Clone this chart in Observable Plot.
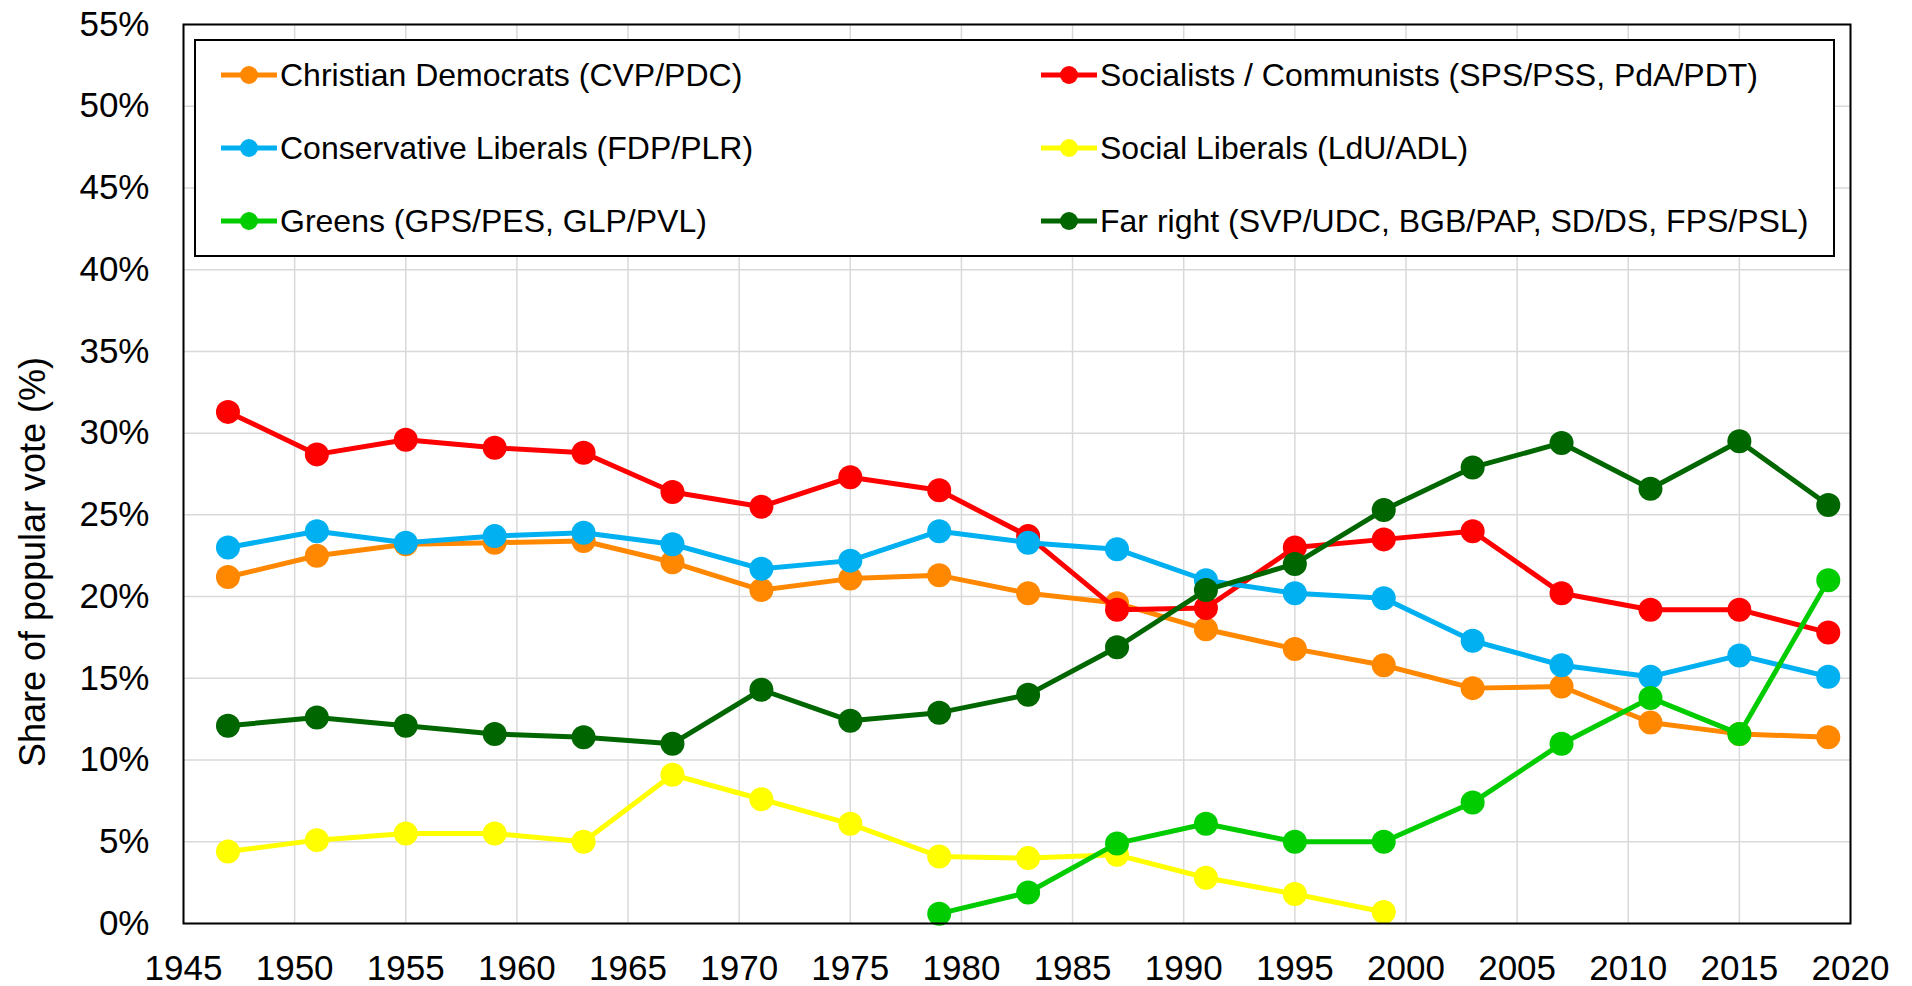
<!DOCTYPE html>
<html>
<head>
<meta charset="utf-8">
<script src="https://cdn.jsdelivr.net/npm/d3@7"></script>
<script src="https://cdn.jsdelivr.net/npm/@observablehq/plot@0.6"></script>
<style>
  body { margin: 0; background: #fff; overflow: hidden; font-family: "Liberation Sans", Arial, sans-serif; }
  #wrap { position: relative; width: 1912px; height: 986px; }
  #wrap > svg { position: absolute; left: 0; top: 0; }
  #legendBox { position: absolute; left: 194px; top: 39px; width: 1637px; height: 214px; border: 2px solid #000; background: #fff; }
  .item { position: absolute; display: flex; align-items: center; font-size: 32px; color: #000; white-space: nowrap; line-height: 1; }
  .item svg { display: block; flex: none; margin-right: 3px; }
  #ytitle { position: absolute; left: 33px; top: 562px; transform: translate(-50%, -50%) rotate(-90deg); font-size: 36px; white-space: nowrap; color: #000; }
</style>
</head>
<body>
<div id="wrap"></div>
<script>
// ---- data ----
const years = [1947, 1951, 1955, 1959, 1963, 1967, 1971, 1975, 1979, 1983, 1987, 1991, 1995, 1999, 2003, 2007, 2011, 2015, 2019];
const christianDemocrats = [21.2, 22.5, 23.2, 23.3, 23.4, 22.1, 20.4, 21.1, 21.3, 20.2, 19.6, 18.0, 16.8, 15.8, 14.4, 14.5, 12.3, 11.6, 11.4];
const socialists = [31.3, 28.7, 29.6, 29.1, 28.8, 26.4, 25.5, 27.3, 26.5, 23.7, 19.2, 19.3, 23.0, 23.5, 24.0, 20.2, 19.2, 19.2, 17.8];
const conservativeLiberals = [23.0, 24.0, 23.3, 23.7, 23.9, 23.2, 21.7, 22.2, 24.0, 23.3, 22.9, 21.0, 20.2, 19.9, 17.3, 15.8, 15.1, 16.4, 15.1];
const socialLiberals = [4.4, 5.1, 5.5, 5.5, 5.0, 9.1, 7.6, 6.1, 4.1, 4.0, 4.2, 2.8, 1.8, 0.7, null, null, null, null, null];
const greens = [null, null, null, null, null, null, null, null, 0.6, 1.9, 4.9, 6.1, 5.0, 5.0, 7.4, 11.0, 13.8, 11.6, 21.0];
const farRight = [12.1, 12.6, 12.1, 11.6, 11.4, 11.0, 14.3, 12.4, 12.9, 14.0, 16.9, 20.4, 22.0, 25.3, 27.9, 29.4, 26.6, 29.5, 25.6];

const seriesNames = [
  "Christian Democrats (CVP/PDC)",
  "Socialists / Communists (SPS/PSS, PdA/PDT)",
  "Conservative Liberals (FDP/PLR)",
  "Social Liberals (LdU/ADL)",
  "Greens (GPS/PES, GLP/PVL)",
  "Far right (SVP/UDC, BGB/PAP, SD/DS, FPS/PSL)"
];
const seriesValues = [christianDemocrats, socialists, conservativeLiberals, socialLiberals, greens, farRight];
const seriesColors = ["#FF8800", "#FF0000", "#00B0F0", "#FFFF00", "#00CC00", "#006600"];

const xTicks = [1945, 1950, 1955, 1960, 1965, 1970, 1975, 1980, 1985, 1990, 1995, 2000, 2005, 2010, 2015, 2020];
const yTicks = [0, 5, 10, 15, 20, 25, 30, 35, 40, 45, 50, 55];
const yTitle = "Share of popular vote (%)";

// legend layout order (column 1 then column 2)
const legendOrder = [0, 2, 4, 1, 3, 5];

// ---- chart ----
const seriesMarks = [];
seriesNames.forEach((name, i) => {
  const rows = years.map((year, j) => ({year, value: seriesValues[i][j]})).filter(d => d.value != null);
  seriesMarks.push(Plot.line(rows, {x: "year", y: "value", stroke: seriesColors[i], strokeWidth: 5}));
  seriesMarks.push(Plot.dot(rows, {x: "year", y: "value", fill: seriesColors[i], r: 12}));
});

const chart = Plot.plot({
  width: 1912,
  height: 986,
  marginLeft: 183,
  marginRight: 62,
  marginTop: 24,
  marginBottom: 63,
  x: {domain: [1945, 2020]},
  y: {domain: [0, 55]},
  style: {fontFamily: '"Liberation Sans", Arial, sans-serif', fontSize: "35px", color: "#000", background: "#fff"},
  marks: [
    Plot.gridX(xTicks, {stroke: "#d9d9d9", strokeOpacity: 1, strokeWidth: 1.5}),
    Plot.gridY(yTicks, {stroke: "#d9d9d9", strokeOpacity: 1, strokeWidth: 1.5}),
    Plot.axisX(xTicks, {tickSize: 0, tickPadding: 32, tickFormat: d => String(d), label: null, fontSize: 35}),
    Plot.axisY(yTicks, {tickSize: 0, tickPadding: 34, tickFormat: d => d + "%", label: null, fontSize: 35}),
    ...seriesMarks,
    Plot.frame({stroke: "#000", strokeWidth: 2})
  ]
});

const wrap = document.getElementById("wrap");
wrap.appendChild(chart);

// legend box
const box = document.createElement("div");
box.id = "legendBox";
wrap.appendChild(box);

const rowTops = [75, 148, 221];
const colLefts = [221, 1041];
legendOrder.forEach((si, k) => {
  const col = Math.floor(k / 3), row = k % 3;
  const item = document.createElement("div");
  item.className = "item";
  item.style.left = colLefts[col] + "px";
  item.style.top = (rowTops[row] - 16) + "px";
  item.style.height = "32px";
  const c = seriesColors[si];
  item.innerHTML = `<svg width="56" height="22" viewBox="0 0 56 22"><line x1="0" x2="56" y1="11" y2="11" stroke="${c}" stroke-width="5"/><circle cx="28" cy="11" r="9" fill="${c}"/></svg><span>${seriesNames[si]}</span>`;
  wrap.appendChild(item);
});

const yt = document.createElement("div");
yt.id = "ytitle";
yt.textContent = yTitle;
wrap.appendChild(yt);
</script>
</body>
</html>
